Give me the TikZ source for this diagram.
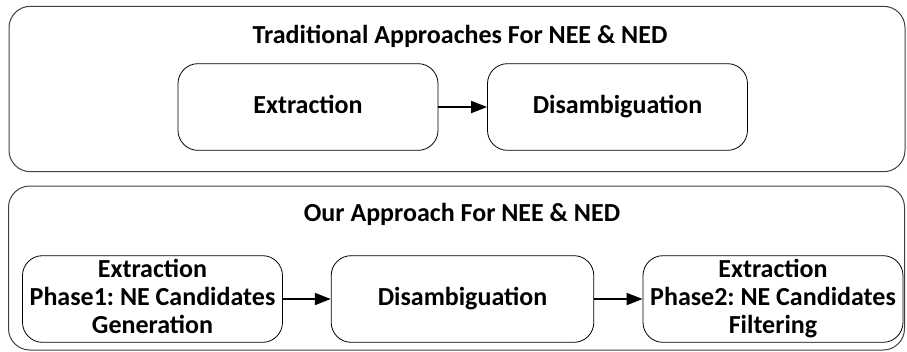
\documentclass[tikz,border=0pt]{standalone}
\usepackage{fontspec}
\setmainfont{Carlito}
\usepackage{tikz}
\usetikzlibrary{arrows.meta}
\frenchspacing

\begin{document}
\begin{tikzpicture}[x=0.75pt,y=0.75pt,yscale=-1,xscale=1,
    frame/.style={draw=black!75,line width=0.75pt,rounded corners=16pt,minimum width=672pt,minimum height=124pt,inner sep=0pt},
    stage/.style={draw,line width=0.6pt,rounded corners=15pt,minimum width=195pt,minimum height=65pt,inner sep=0pt,align=center,text depth=4.5pt,font=\bfseries\fontsize{19.5}{21}\selectfont},
    heading/.style={inner sep=0.75pt,font=\bfseries\fontsize{19.5}{21}\selectfont},
    flow/.style={line width=1.5pt,-{Triangle[length=12pt,width=9pt]}}]
        \useasboundingbox (0,0) rectangle (907,351);

        % upper frame
        \node [frame] (trad) at (457,89) {};
        \node [heading] (tradtitle) at (460,36) {Traditional Approaches For NEE \& NED};
        \node [stage] (ext) at (308,107) {Extraction};
        \node [stage] (dis) at (617.5,107) {Disambiguation};
        \draw [flow] (ext) -- (dis);

        % lower frame
        \node [frame,minimum height=123pt] (ours) at (456.5,268) {};
        \node [heading] (ourstitle) at (462,214) {Our Approach For NEE \& NED};
        \node [stage] (gen) at (152.5,299) {Extraction\\Phase1: NE Candidates\\Generation};
        \node [stage,minimum width=197pt] (dis2) at (462.5,299) {Disambiguation};
        \node [stage] (filt) at (773,299) {Extraction\\Phase2: NE Candidates\\Filtering};
        \draw [flow] (gen) -- (dis2);
        \draw [flow] (dis2) -- (filt);

    \end{tikzpicture}
\end{document}
